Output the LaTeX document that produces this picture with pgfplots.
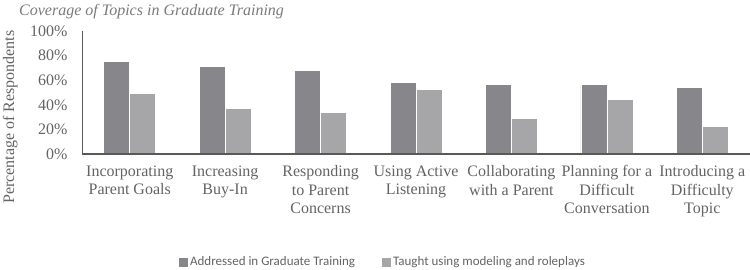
\documentclass[border=0pt]{standalone}
\usepackage{pgfplots}
\pgfplotsset{compat=1.18}
\usepackage{fontspec}
\setmainfont{Liberation Serif}
\newfontfamily\legfont{Carlito}
\definecolor{darkbar}{HTML}{87878B}
\definecolor{lightbar}{HTML}{A6A6A8}
\definecolor{txt}{HTML}{636363}
\definecolor{axl}{HTML}{595959}
\begin{document}
\begin{tikzpicture}[x=1pt,y=1pt]
\path[use as bounding box] (0,0) rectangle (750,-269);
\node[anchor=base west, inner sep=0, text=txt!85, font=\fontsize{16}{19}\selectfont\itshape] at (19,-15) {Coverage of Topics in Graduate Training};
\node[rotate=90, anchor=base, inner sep=0, text=txt, font=\fontsize{16}{19}\selectfont] at (14,-117) {Percentage of Respondents};
\begin{axis}[
  at={(82pt,-154pt)}, anchor=south west,
  scale only axis, width=668pt, height=123pt,
  xmin=-0.5, xmax=6.5, ymin=0, ymax=100,
  axis on top,
  axis x line*=bottom, axis y line*=left,
  x axis line style={-, axl, line width=1.4pt},
  y axis line style={-, axl, line width=1pt},
  ytick={0,20,40,60,80,100},
  yticklabels={0\%,20\%,40\%,60\%,80\%,100\%},
  major tick length=0pt,
  yticklabel style={font=\fontsize{16}{19}\selectfont, text=txt, anchor=east, xshift=-11pt},
  xtick={0,1,2,3,4,5,6},
  xticklabels={Incorporating\\Parent Goals, Increasing\\Buy-In, Responding\\to Parent\\Concerns, Using Active\\Listening, Collaborating\\with a Parent, Planning for a\\Difficult\\Conversation, Introducing a\\Difficulty\\Topic},
  xticklabel style={font=\fontsize{16}{18.5}\selectfont, text=txt, align=center, anchor=north, yshift=-8pt},
  ybar=0pt, bar width=26pt,
  clip=false,
  legend style={at={(axis description cs:0.4506,-0.878)}, anchor=center, draw=none, fill=none,
    legend columns=2, font=\legfont\fontsize{13}{15}\selectfont, text=txt,
    /tikz/every even column/.append style={column sep=25pt}},
  legend image code/.code={\fill[#1, draw=none] (0pt,-4.5pt) rectangle (9pt,4pt);},
]
\addplot[fill=darkbar, draw=white, line width=0.5pt] coordinates {(0,75.6) (1,71) (2,68) (3,58) (4,56.8) (5,56.5) (6,54.3)};
\addplot[fill=lightbar, draw=white, line width=0.5pt] coordinates {(0,49) (1,37.4) (2,34) (3,52.5) (4,29) (5,44.4) (6,22.4)};
\legend{Addressed in Graduate Training, Taught using modeling and roleplays}
\end{axis}
\end{tikzpicture}
\end{document}
